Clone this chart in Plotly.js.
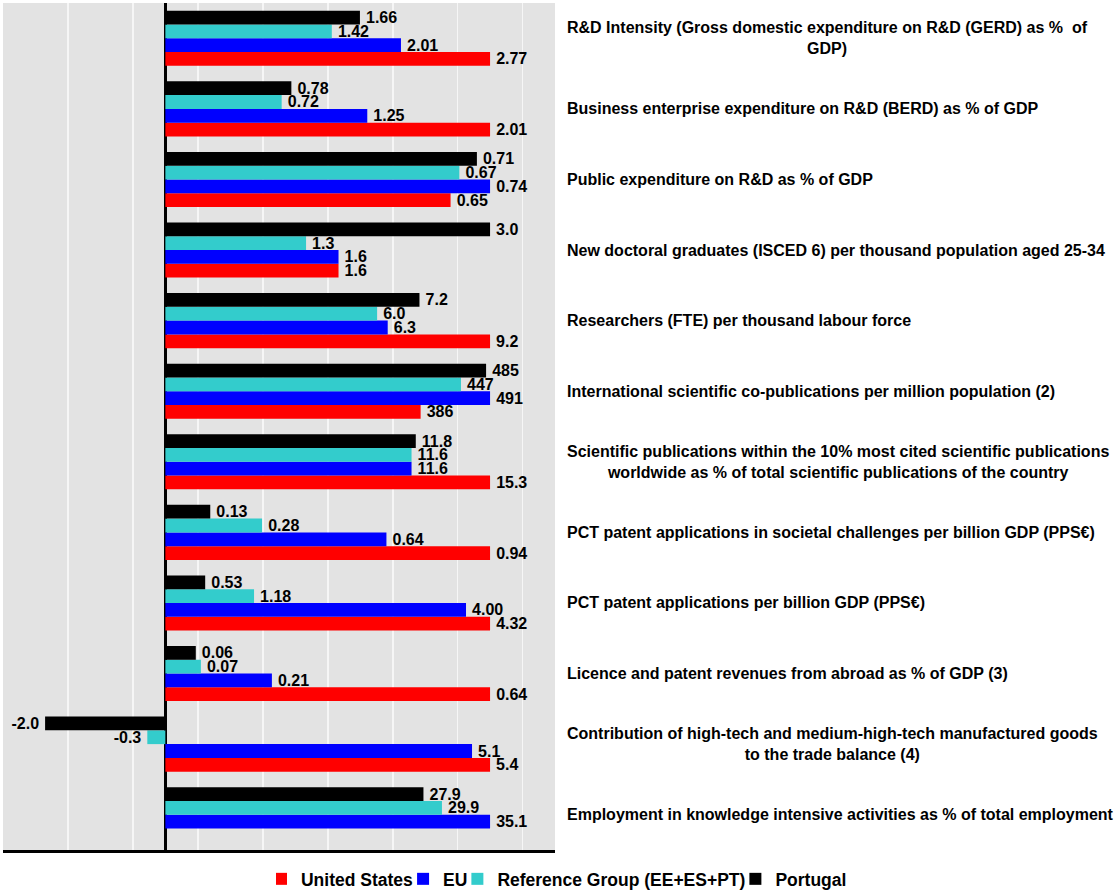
<!DOCTYPE html>
<html>
<head>
<meta charset="utf-8">
<script src="https://cdn.plot.ly/plotly-3.0.1.min.js"></script>
<style>html,body{margin:0;padding:0;background:#fff;}#chart{width:1120px;height:893px;}</style>
</head>
<body>
<div id="chart"></div>
<script>
const categories = [
  "R&D Intensity (Gross domestic expenditure on R&D (GERD) as %  of<br>GDP)",
  "Business enterprise expenditure on R&D (BERD) as % of GDP",
  "Public expenditure on R&D as % of GDP",
  "New doctoral graduates (ISCED 6) per thousand population aged 25-34",
  "Researchers (FTE) per thousand labour force",
  "International scientific co-publications per million population (2)",
  "Scientific publications within the 10% most cited scientific publications<br>worldwide as % of total scientific publications of the country",
  "PCT patent applications in societal challenges per billion GDP (PPS€)",
  "PCT patent applications per billion GDP (PPS€)",
  "Licence and patent revenues from abroad as % of GDP (3)",
  "Contribution of high-tech and medium-high-tech manufactured goods<br>to the trade balance (4)",
  "Employment in knowledge intensive activities as % of total employment"
];
const decimals = [2, 2, 2, 1, 1, 0, 1, 2, 2, 2, 1, 1];
const unitedStates = [2.77, 2.01, 0.65, 1.6, 9.2, 386, 15.3, 0.94, 4.32, 0.64, 5.4, null];
const eu = [2.01, 1.25, 0.74, 1.6, 6.3, 491, 11.6, 0.64, 4.00, 0.21, 5.1, 35.1];
const referenceGroup = [1.42, 0.72, 0.67, 1.3, 6.0, 447, 11.6, 0.28, 1.18, 0.07, -0.3, 29.9];
const portugal = [1.66, 0.78, 0.71, 3.0, 7.2, 485, 11.8, 0.13, 0.53, 0.06, -2.0, 27.9];

const seriesNames = ["United States", "EU", "Reference Group (EE+ES+PT)", "Portugal"];
const seriesValues = [unitedStates, eu, referenceGroup, portugal];
const seriesColors = ["#FF0000", "#0000FF", "#33CCCC", "#000000"];

// each indicator is scaled so that its largest value = 100
const groupMax = categories.map((c, i) =>
  Math.max(...seriesValues.map(s => s[i]).filter(v => v !== null)));

const FONT = "Liberation Sans, Arial, Helvetica, sans-serif";
const PAD = '<span style="font-size:11px">\u00a0</span>';

const traces = seriesValues.map((vals, k) => ({
  type: "bar",
  orientation: "h",
  name: seriesNames[k],
  y: categories,
  x: vals.map((v, i) => v === null ? null : v / groupMax[i] * 100),
  text: vals.map((v, i) => v === null ? "" :
    (v < 0 ? v.toFixed(decimals[i]) + PAD : PAD + v.toFixed(decimals[i]))),
  textposition: "outside",
  constraintext: "none",
  cliponaxis: false,
  textfont: {family: FONT, size: 16, color: "#000", weight: "bold"},
  marker: {color: seriesColors[k], line: {width: 0}},
  hoverinfo: "skip"
}));

const annotations = categories.map(c => ({
  xref: "paper", yref: "y",
  x: 1, y: c,
  xshift: 10,
  xanchor: "left", yanchor: "middle",
  align: "center",
  showarrow: false,
  text: c,
  font: {family: FONT, size: 16, color: "#000", weight: "bold"}
}));

const layout = {
  width: 1120, height: 893,
  margin: {l: 3, r: 565, t: 3, b: 43, autoexpand: false},
  paper_bgcolor: "#ffffff",
  plot_bgcolor: "#e3e3e3",
  barmode: "group",
  bargap: 0.22,
  bargroupgap: 0,
  font: {family: FONT, size: 16, color: "#000"},
  xaxis: {
    range: [-50, 120],
    tick0: -50, dtick: 20,
    showticklabels: false,
    ticks: "",
    showgrid: true, gridcolor: "#f6f6f6", gridwidth: 1.7,
    zeroline: true, zerolinecolor: "#000", zerolinewidth: 3,
    showline: true, linecolor: "#000", linewidth: 3,
    fixedrange: true
  },
  yaxis: {
    type: "category",
    categoryorder: "array",
    categoryarray: categories.slice().reverse(),
    showticklabels: false,
    ticks: "",
    showgrid: false,
    zeroline: false,
    showline: false,
    fixedrange: true
  },
  showlegend: true,
  legend: {
    orientation: "h",
    xref: "paper", yref: "paper",
    x: 1.538, xanchor: "right",
    y: -0.0342, yanchor: "middle",
    itemwidth: 30,
    indentation: -15,
    traceorder: "normal",
    font: {family: FONT, size: 17.5, color: "#000", weight: "bold"},
    bgcolor: "rgba(0,0,0,0)"
  },
  annotations: annotations
};

Plotly.newPlot("chart", traces, layout, {displayModeBar: false, staticPlot: true});
</script>
</body>
</html>
